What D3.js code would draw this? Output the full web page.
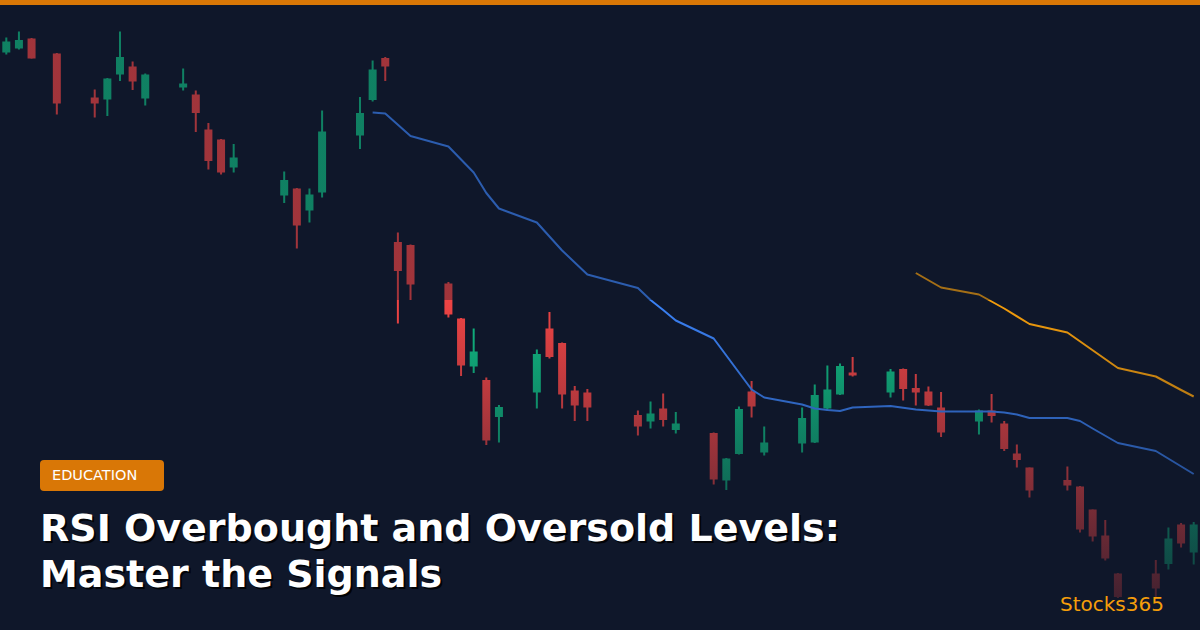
<!DOCTYPE html>
<html>
<head>
<meta charset="utf-8">
<script src="https://cdn.jsdelivr.net/npm/d3@7"></script>
<style>
  html, body { margin: 0; padding: 0; background: #0f172a; }
  svg { display: block; }
</style>
</head>
<body>
<div id="chart"></div>
<script>
// candle index (trading day slot), open, high, low, close
const days  = [0, 1, 2, 4, 7, 8, 9, 10, 11, 14, 15, 16, 17, 18, 22, 23, 24, 25, 28, 29, 30,
               31, 32, 35, 36, 37, 38, 39, 42, 43, 44, 45, 46, 50, 51, 52, 53, 56, 57, 58, 59, 60,
               63, 64, 65, 66, 67, 70, 71, 72, 73, 74, 77, 78, 79, 80, 81, 84, 85, 86, 87, 88,
               91, 92, 93, 94];
const opens = [139.5, 140.3, 142.3, 139.3, 130.5, 130.1, 135.1, 136.7, 130.3, 132.5, 131.1, 124.1, 122.1, 116.5, 110.9, 112.3, 107.9, 111.5, 122.9, 130.0, 138.4,
               101.6, 101.0, 93.3, 86.3, 76.7, 74.0, 66.6, 71.5, 84.3, 81.4, 71.9, 71.5, 67.0, 65.7, 68.3, 64.0, 63.4, 53.9, 59.2, 71.7, 59.5,
               61.3, 61.5, 68.3, 71.1, 75.5, 71.5, 76.2, 72.4, 71.7, 68.5, 65.7, 67.9, 65.3, 59.3, 56.5, 54.0, 52.7, 48.1, 42.9, 35.3,
               35.3, 37.2, 45.1, 39.5];
const highs = [142.5, 143.7, 142.4, 139.4, 132.1, 134.4, 143.7, 137.7, 135.3, 136.3, 131.9, 125.4, 122.2, 121.2, 115.7, 112.4, 112.3, 127.9, 130.6, 137.9, 138.6,
               103.5, 101.1, 93.6, 86.4, 84.3, 74.5, 69.0, 80.1, 87.6, 81.5, 72.8, 72.2, 67.9, 69.7, 71.3, 67.6, 63.5, 58.4, 68.7, 73.8, 64.7,
               68.5, 73.1, 76.9, 77.3, 78.6, 76.2, 76.3, 75.2, 72.7, 71.6, 68.1, 71.2, 65.8, 61.1, 56.5, 56.7, 52.8, 48.1, 46.0, 35.4,
               38.0, 44.5, 45.4, 45.6];
const lows  = [139.1, 140.1, 138.3, 127.1, 126.5, 126.8, 133.8, 132.0, 128.9, 131.9, 123.6, 116.1, 115.1, 115.5, 109.4, 100.3, 105.5, 110.5, 120.2, 129.7, 133.8,
               85.3, 90.0, 86.5, 74.8, 75.4, 61.0, 61.5, 68.3, 78.3, 68.3, 65.8, 65.8, 62.9, 64.3, 64.7, 63.3, 53.1, 52.0, 59.1, 66.5, 58.9,
               59.5, 61.4, 67.8, 71.0, 74.7, 70.5, 69.9, 68.9, 68.8, 62.6, 63.1, 65.5, 59.8, 56.5, 50.5, 51.9, 43.5, 41.7, 37.9, 30.4,
               30.4, 36.1, 40.5, 37.1];
const closes = [141.7, 142.0, 138.3, 129.3, 129.3, 134.3, 138.6, 133.7, 135.1, 133.3, 127.4, 117.8, 115.5, 118.5, 114.0, 104.9, 111.1, 123.7, 127.4, 136.1, 136.7,
                95.8, 93.1, 87.1, 76.9, 79.7, 61.9, 68.6, 79.2, 78.6, 71.1, 68.9, 68.5, 64.7, 67.3, 66.0, 65.3, 54.1, 58.3, 68.2, 68.7, 61.5,
                66.4, 71.0, 72.1, 76.8, 74.9, 75.7, 72.2, 71.5, 68.9, 63.5, 67.9, 66.8, 60.2, 58.0, 51.9, 52.9, 44.1, 42.7, 38.3, 30.6,
                32.3, 42.3, 41.3, 45.1];

// moving averages (slot, value)
const fastDays = [29, 30, 32, 35, 37, 38, 39, 42, 44, 46, 50, 51, 52, 53, 56, 59, 60, 63, 64, 65, 66, 67,
                  70, 72, 74, 77, 78, 79, 80, 81, 84, 85, 86, 88, 91, 94];
const fastMA   = [127.5, 127.3, 122.8, 120.7, 115.5, 111.4, 108.3, 105.5, 99.9, 95.1, 92.4, 90.0, 88.0, 85.9, 82.3, 72.1, 70.5, 69.1, 68.3, 68.0, 67.8, 68.5,
                  68.8, 68.1, 67.7, 67.7, 67.7, 67.5, 67.1, 66.4, 66.4, 65.8, 64.3, 61.4, 59.8, 55.2];
const slowDays = [72, 74, 77, 79, 81, 84, 88, 91, 93, 94];
const slowMA   = [95.4, 92.5, 91.1, 88.3, 85.2, 83.5, 76.4, 74.7, 72.0, 70.7];

const titleLines = ["RSI Overbought and Oversold Levels:", "Master the Signals"];
const tag = "EDUCATION";
const brand = "Stocks365";

const W = 1200, H = 630;
const BG = "#0f172a", UP = "#10b981", DOWN = "#ef4444", ACCENT = "#d97706";

const svg = d3.select("#chart").append("svg")
  .attr("width", W)
  .attr("height", H);

svg.append("rect").attr("width", W).attr("height", H).attr("fill", BG);

const x = d3.scaleLinear().domain([0, 94]).range([6.3, 1193.7]);
const y = d3.scaleLinear().domain([24, 150]).range([H, 0]);

const candles = days.map((d, i) => ({
  day: d, open: opens[i], high: highs[i], low: lows[i], close: closes[i]
}));

const plot = svg.append("g");

const c = plot.selectAll("g.candle")
  .data(candles)
  .join("g")
  .attr("class", "candle")
  .attr("fill", d => d.close >= d.open ? UP : DOWN);

c.append("rect")
  .attr("x", d => x(d.day) - 1)
  .attr("width", 2)
  .attr("y", d => y(d.high))
  .attr("height", d => y(d.low) - y(d.high));

c.append("rect")
  .attr("x", d => x(d.day) - 4)
  .attr("width", 8)
  .attr("y", d => y(Math.max(d.open, d.close)))
  .attr("height", d => Math.max(1.5, Math.abs(y(d.open) - y(d.close))));

const line = d3.line().x(d => x(d[0])).y(d => y(d[1]));

plot.append("path")
  .datum(d3.zip(fastDays, fastMA))
  .attr("d", line)
  .attr("fill", "none")
  .attr("stroke", "#3b82f6")
  .attr("stroke-width", 2)
  .attr("stroke-linejoin", "round");

plot.append("path")
  .datum(d3.zip(slowDays, slowMA))
  .attr("d", line)
  .attr("fill", "none")
  .attr("stroke", "#f59e0b")
  .attr("stroke-width", 2)
  .attr("stroke-linejoin", "round");

// shade: flat veil on the top part, fade to background toward the bottom
const grad = svg.append("defs").append("linearGradient")
  .attr("id", "veil")
  .attr("gradientUnits", "userSpaceOnUse")
  .attr("x1", 0).attr("y1", 0).attr("x2", 0).attr("y2", H);
[[0, 0.35], [300 / H, 0.35], [300 / H, 0], [1, 0.85]].forEach(s => {
  grad.append("stop")
    .attr("offset", s[0])
    .attr("stop-color", BG)
    .attr("stop-opacity", s[1]);
});
svg.append("rect").attr("width", W).attr("height", H).attr("fill", "url(#veil)");

// top accent bar
svg.append("rect").attr("width", W).attr("height", 5).attr("fill", ACCENT);

// tag
svg.append("rect")
  .attr("x", 40).attr("y", 460)
  .attr("width", 124).attr("height", 31)
  .attr("rx", 4)
  .attr("fill", ACCENT);
svg.append("text")
  .attr("x", 52).attr("y", 480)
  .attr("fill", "#fff")
  .style("font", "14.5px 'DejaVu Sans'")
  .text(tag);

// title with drop shadow
const title = svg.append("g").style("font", "bold 38px 'DejaVu Sans'");
titleLines.forEach((t, i) => {
  title.append("text")
    .attr("x", 42).attr("y", 543 + i * 46)
    .attr("fill", "#000").attr("fill-opacity", 0.85)
    .text(t);
  title.append("text")
    .attr("x", 40).attr("y", 541 + i * 46)
    .attr("fill", "#fff")
    .text(t);
});

svg.append("text")
  .attr("x", 1060).attr("y", 611)
  .attr("fill", "#f59e0b")
  .style("font", "20px 'DejaVu Sans'")
  .text(brand);
</script>
</body>
</html>
